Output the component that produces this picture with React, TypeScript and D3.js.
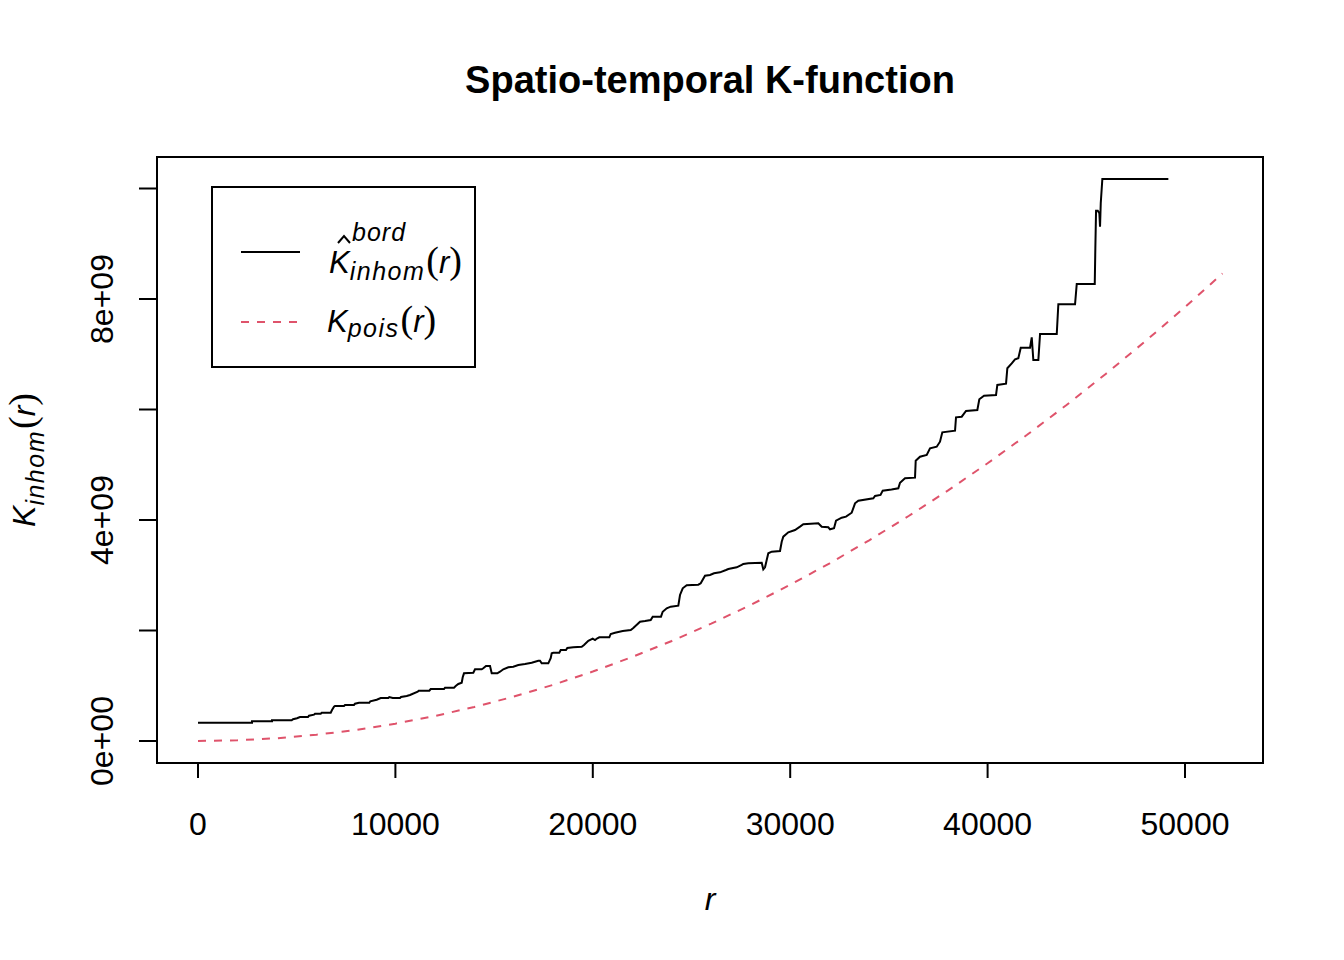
import React from 'react';
import * as d3 from 'd3';

// Estimated border-corrected inhomogeneous K (r, K in units of 1e9)
const kBord: [number, number][] = [
  [0, 0.331], [2736, 0.331], [2736, 0.357], [3749, 0.357], [3749, 0.375], [4747, 0.375],
  [4813, 0.393], [5015, 0.411], [5167, 0.434], [5573, 0.434], [5623, 0.458], [5876, 0.476],
  [5927, 0.494], [6216, 0.494], [6267, 0.512], [6723, 0.512], [6789, 0.561], [6890, 0.621],
  [6940, 0.634], [7396, 0.634], [7447, 0.652], [7903, 0.652], [7954, 0.675], [8156, 0.693],
  [8678, 0.693], [8729, 0.719], [9053, 0.748], [9256, 0.778], [9641, 0.778], [9691, 0.796],
  [9864, 0.778], [10233, 0.778], [10284, 0.796], [10573, 0.815], [10740, 0.833], [11130, 0.892],
  [11181, 0.91], [11718, 0.91], [11789, 0.941], [12463, 0.941], [12513, 0.965], [12969, 0.965],
  [13055, 0.996], [13187, 1.032], [13359, 1.055], [13410, 1.153], [13475, 1.225], [13947, 1.236],
  [14033, 1.298], [14372, 1.298], [14453, 1.316], [14590, 1.358], [14793, 1.358], [14879, 1.225],
  [15163, 1.225], [15299, 1.254], [15466, 1.298], [15720, 1.334], [15973, 1.345], [16226, 1.376],
  [16566, 1.394], [16905, 1.417], [17240, 1.453], [17325, 1.453], [17411, 1.406], [17746, 1.406],
  [17867, 1.497], [17918, 1.587], [17999, 1.598], [18303, 1.598], [18374, 1.647], [18643, 1.647],
  [18709, 1.683], [19013, 1.696], [19438, 1.707], [19555, 1.738], [19773, 1.815], [19996, 1.852],
  [20112, 1.828], [20229, 1.859], [20330, 1.877], [20837, 1.877], [20908, 1.937], [21126, 1.96],
  [21516, 1.991], [21921, 2.009], [22053, 2.045], [22392, 2.159], [22645, 2.172], [22934, 2.19],
  [23035, 2.25], [23455, 2.25], [23541, 2.34], [23744, 2.402], [23947, 2.431], [24332, 2.449],
  [24418, 2.643], [24555, 2.764], [24757, 2.818], [25345, 2.829], [25467, 2.854], [25684, 2.992],
  [25938, 3.005], [26140, 3.035], [26444, 3.053], [26748, 3.095], [26865, 3.113], [27290, 3.144],
  [27544, 3.186], [27625, 3.204], [27878, 3.216], [28557, 3.227], [28638, 3.108], [28724, 3.144],
  [28810, 3.276], [28891, 3.397], [29063, 3.426], [29484, 3.439], [29570, 3.607], [29651, 3.698],
  [29904, 3.777], [30244, 3.819], [30497, 3.879], [30664, 3.922], [31424, 3.94], [31597, 3.879],
  [31931, 3.868], [32017, 3.832], [32220, 3.85], [32321, 3.987], [32610, 4.042], [32828, 4.06],
  [33116, 4.132], [33284, 4.302], [33451, 4.349], [34211, 4.393], [34297, 4.435], [34576, 4.453],
  [34687, 4.531], [35133, 4.552], [35477, 4.574], [35563, 4.675], [35816, 4.755], [36323, 4.766],
  [36358, 5.073], [36576, 5.146], [36916, 5.177], [37083, 5.298], [37422, 5.327], [37589, 5.417],
  [37706, 5.587], [38350, 5.616], [38400, 5.859], [38689, 5.87], [38907, 5.973], [39480, 5.991],
  [39581, 6.185], [39819, 6.25], [40427, 6.263], [40493, 6.444], [40934, 6.467], [41000, 6.746],
  [41223, 6.836], [41390, 6.909], [41557, 6.927], [41679, 7.119], [42150, 7.119], [42236, 7.307],
  [42317, 6.896], [42571, 6.896], [42657, 7.367], [43503, 7.367], [43584, 7.904], [44430, 7.904],
  [44516, 8.272], [45428, 8.272], [45458, 8.918], [45494, 9.598], [45580, 9.598], [45661, 9.551],
  [45696, 9.309], [45732, 9.732], [45813, 10.172], [49157, 10.172],
];

// Theoretical Poisson K (r, K in units of 1e9)
const poisR = [0, 2000, 4000, 6000, 8000, 10000, 12000, 14000, 16000, 18000, 20000, 22000, 24000, 26000,
  28000, 30000, 32000, 34000, 36000, 38000, 40000, 42000, 44000, 46000, 48000, 50000, 51900];
const poisK = [0, 0.013, 0.05, 0.113, 0.201, 0.314, 0.452, 0.616, 0.804, 1.018, 1.257, 1.521, 1.81, 2.124,
  2.463, 2.827, 3.217, 3.632, 4.072, 4.536, 5.027, 5.542, 6.082, 6.648, 7.238, 7.854, 8.462];

const xTicks = [0, 10000, 20000, 30000, 40000, 50000];
const xTickLabels = ['0', '10000', '20000', '30000', '40000', '50000'];
const yTicks = [0, 2e9, 4e9, 6e9, 8e9, 10e9];
const yTickLabels = ['0e+00', '', '4e+09', '', '8e+09', ''];

const title = 'Spatio-temporal K-function';
const SANS = '"Liberation Sans", Arial, Helvetica, sans-serif';
const SERIF = '"Liberation Serif", "Times New Roman", serif';
const RED = '#DF536B';

export default function App() {
  const x = d3.scaleLinear().domain([0, 50000]).range([198, 1185]);
  const y = d3.scaleLinear().domain([0, 8e9]).range([741, 299]);
  const box = { x0: 157, x1: 1263, y0: 157, y1: 763 };

  const bordLine = d3.line<[number, number]>()
    .x((d) => x(d[0]))
    .y((d) => y(d[1] * 1e9));
  const poisPts: [number, number][] = poisR.map((r, i) => [r, poisK[i]]);
  const poisPath = bordLine(poisPts) || '';
  const bordPath = bordLine(kBord) || '';

  return (
    <svg width={1344} height={960} style={{ position: 'absolute', left: 0, top: 0, background: '#fff' }}
      fontFamily={SANS}>
      <rect x={0} y={0} width={1344} height={960} fill="#fff" />
      <text x={710} y={93} textAnchor="middle" fontSize={38} fontWeight="bold">{title}</text>

      {/* data */}
      <path d={poisPath} fill="none" stroke={RED} strokeWidth={2} strokeDasharray="8,8" />
      <path d={bordPath} fill="none" stroke="#000" strokeWidth={2} />

      {/* box */}
      <rect x={box.x0} y={box.y0} width={box.x1 - box.x0} height={box.y1 - box.y0} fill="none" stroke="#000" strokeWidth={2} />

      {/* x axis */}
      <line x1={x(xTicks[0])} x2={x(xTicks[xTicks.length - 1])} y1={box.y1} y2={box.y1} stroke="#000" strokeWidth={2} />
      {xTicks.map((t, i) => (
        <g key={'xt' + i}>
          <line x1={x(t)} x2={x(t)} y1={box.y1} y2={box.y1 + 15} stroke="#000" strokeWidth={2} />
          <text x={x(t)} y={835} textAnchor="middle" fontSize={32}>{xTickLabels[i]}</text>
        </g>
      ))}
      <text x={710} y={910} textAnchor="middle" fontSize={32} fontStyle="italic">r</text>

      {/* y axis */}
      <line x1={box.x0} x2={box.x0} y1={y(yTicks[0])} y2={y(yTicks[yTicks.length - 1])} stroke="#000" strokeWidth={2} />
      {yTicks.map((t, i) => (
        <g key={'yt' + i}>
          <line x1={box.x0} x2={box.x0 - 18} y1={y(t)} y2={y(t)} stroke="#000" strokeWidth={2} />
          {yTickLabels[i] && (
            <text transform={`translate(113,${y(t)}) rotate(-90)`} textAnchor="middle" fontSize={32}>{yTickLabels[i]}</text>
          )}
        </g>
      ))}
      <text transform="translate(35,460) rotate(-90)" textAnchor="middle" fontSize={32}>
        <tspan fontStyle="italic">K</tspan>
        <tspan fontStyle="italic" fontSize={25} dy={9} letterSpacing={1.5}>inhom</tspan>
        <tspan fontFamily={SERIF} fontSize={38} dy={-9} dx={1}>(</tspan>
        <tspan fontStyle="italic">r</tspan>
        <tspan fontFamily={SERIF} fontSize={38}>)</tspan>
      </text>

      {/* legend */}
      <rect x={212} y={187} width={263} height={180} fill="#fff" stroke="#000" strokeWidth={2} />
      <line x1={241} x2={300} y1={252} y2={252} stroke="#000" strokeWidth={2} />
      <line x1={241} x2={300} y1={322} y2={322} stroke={RED} strokeWidth={2} strokeDasharray="8,8" />
      <path d="M338,243 L344,236 L350,243" fill="none" stroke="#000" strokeWidth={2} />
      <text x={352} y={241} fontSize={25} fontStyle="italic" letterSpacing={1}>bord</text>
      <text x={329} y={273} fontSize={31}>
        <tspan fontStyle="italic">K</tspan>
        <tspan fontStyle="italic" fontSize={25} dy={7} letterSpacing={1.5}>inhom</tspan>
        <tspan fontFamily={SERIF} fontSize={38} dy={-7} dx={1}>(</tspan>
        <tspan fontStyle="italic">r</tspan>
        <tspan fontFamily={SERIF} fontSize={38}>)</tspan>
      </text>
      <text x={327} y={332} fontSize={31}>
        <tspan fontStyle="italic">K</tspan>
        <tspan fontStyle="italic" fontSize={25} dy={5} letterSpacing={1.5}>pois</tspan>
        <tspan fontFamily={SERIF} fontSize={38} dy={-5} dx={1}>(</tspan>
        <tspan fontStyle="italic">r</tspan>
        <tspan fontFamily={SERIF} fontSize={38}>)</tspan>
      </text>
    </svg>
  );
}
